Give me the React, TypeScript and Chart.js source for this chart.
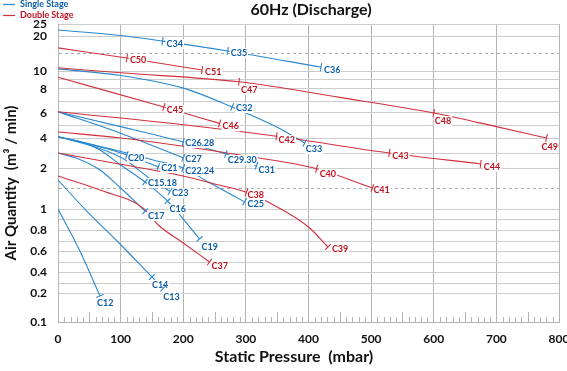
import React, { useEffect, useRef } from 'react';
import { Chart, registerables, LinearScale } from 'chart.js';

// ---------------- axis definitions ----------------
const X_TICKS = [0, 100, 200, 300, 400, 500, 600, 700, 800];
// grid values of the (hand drawn, non uniform) quantity axis
const Y_GRID_VALUES = [0.1, 0.2, 0.3, 0.4, 0.5, 0.6, 0.7, 0.8, 0.9, 1, 1.5, 2, 3, 4, 5, 6, 7, 8, 9, 10, 15, 20, 25];
// relative rank of each grid value along the axis (bottom = 0, top = 298)
const Y_GRID_RANK = [0, 29, 39, 50, 60, 71, 81, 92, 102, 113, 134, 154, 169, 184, 196, 209, 221, 233, 242, 251, 269, 286, 298];
const Y_LABELS = [0.1, 0.2, 0.4, 0.6, 0.8, 1, 2, 4, 6, 8, 10, 20, 25];
const Y_DASHED = [1.5, 15];

// ---------------- single stage curves ----------------
const P_C34 = [0, 100, 167, 271, 420];
const Q_C34 = [22.5, 20.2, 18.5, 15.6, 11.1];
const M_C34 = ['', '', 'C34', 'C35', 'C36'];

const P_C32 = [0, 100, 200, 278, 350, 394];
const Q_C32 = [10.6, 9.5, 8.1, 6.5, 4.9, 3.67];
const M_C32 = ['', '', '', 'C32', '', 'C33'];

const P_C26 = [0, 100, 200, 268, 317];
const Q_C26 = [6.1, 4.95, 3.73, 2.93, 2.15];
const M_C26 = ['', '', 'C26.28', 'C29.30', 'C31'];

const P_C27 = [0, 100, 200];
const Q_C27 = [6.1, 4.4, 2.67];
const M_C27 = ['', '', 'C27'];

const P_C22 = [0, 100, 160, 200, 240, 298];
const Q_C22 = [4.1, 3.1, 2.45, 2.0, 1.65, 1.17];
const M_C22 = ['', '', '', 'C22.24', '', 'C25'];

const P_C20 = [0, 60, 110, 160];
const Q_C20 = [4.1, 3.5, 2.87, 2.07];
const M_C20 = ['', '', 'C20', 'C21'];

const P_C23 = [0, 67, 107, 147, 179];
const Q_C23 = [4.1, 3.3, 2.55, 1.73, 1.42];
const M_C23 = ['', '', '', '', 'C23'];

const P_C15 = [0, 40, 67, 100, 139, 175, 226];
const Q_C15 = [4.1, 3.7, 3.2, 2.2, 1.65, 1.19, 0.72];
const M_C15 = ['', '', '', '', 'C15.18', 'C16', 'C19'];

const P_C17 = [0, 30, 67, 100, 139];
const Q_C17 = [3.0, 2.65, 1.95, 1.5, 0.98];
const M_C17 = ['', '', '', '', 'C17'];

const P_C14 = [0, 46, 99, 150, 168];
const Q_C14 = [1.7, 0.98, 0.67, 0.355, 0.245];
const M_C14 = ['', '', '', 'C14', 'C13'];

const P_C12 = [0, 35, 67];
const Q_C12 = [1.0, 0.6, 0.19];
const M_C12 = ['', '', 'C12'];

// ---------------- double stage curves ----------------
const P_C50 = [0, 110, 230];
const Q_C50 = [16.5, 13.6, 10.3];
const M_C50 = ['', 'C50', 'C51'];

const P_C47 = [0, 100, 289, 450, 600, 700, 780];
const Q_C47 = [10.9, 9.8, 8.8, 7.3, 6.0, 4.95, 4.0];
const M_C47 = ['', '', 'C47', '', 'C48', '', 'C49'];

const P_C45 = [0, 169, 258];
const Q_C45 = [9.3, 6.5, 5.2];
const M_C45 = ['', 'C45', 'C46'];

const P_C42 = [0, 200, 349, 529, 675];
const Q_C42 = [6.1, 5.1, 4.15, 3.0, 2.27];
const M_C42 = ['', '', 'C42', 'C43', 'C44'];

const P_C40 = [0, 100, 200, 300, 413, 502];
const Q_C40 = [4.5, 4.0, 3.45, 2.8, 1.98, 1.5];
const M_C40 = ['', '', '', '', 'C40', 'C41'];

const P_C38 = [0, 100, 200, 250, 301, 350, 400, 431];
const Q_C38 = [3.0, 2.25, 1.8, 1.6, 1.4, 1.05, 0.83, 0.64];
const M_C38 = ['', '', '', '', 'C38', '', '', 'C39'];

const P_C37 = [0, 67, 136, 160, 200, 242];
const Q_C37 = [1.8, 1.45, 1.02, 0.85, 0.68, 0.5];
const M_C37 = ['', '', '', '', '', 'C37'];

// ---------------- styles ----------------
const BLUE_LINE = '#2a88d0';
const RED_LINE = '#d3303c';
const BLUE_TEXT = '#0c5eab';
const RED_TEXT = '#c0121f';
const FONT = 'Lato, "DejaVu Sans", sans-serif';

const LABEL_OFFSET: Record<string, [number, number]> = {
  C34: [4, 3], C35: [3, 2], C36: [3, 3], C50: [3, 2], C51: [3, 2], C47: [2, 8],
  C45: [3, 3], C32: [4, 1], C46: [3, 3], C48: [1, 8], C49: [-5, 9], C42: [2, 4],
  C33: [1, 6], C43: [3, 3], C44: [3, 3], 'C26.28': [2, 1], 'C29.30': [2, 6],
  C31: [2, 4], C27: [2, 1], 'C22.24': [2, 3], C40: [3, 5], C41: [1, 2], C38: [1, 3],
  C25: [3, 2], C39: [4, 2], C20: [1, 3], C21: [3, 1], 'C15.18': [3, 1], C23: [2, 2],
  C16: [2, 8], C17: [3, 5], C19: [2, 8], C37: [2, 4], C12: [-3, 7], C14: [0, 8], C13: [0, 9],
};

type Curve = { p: number[]; q: number[]; m: string[]; line: string; text: string };

const SINGLE: [number[], number[], string[]][] = [
  [P_C34, Q_C34, M_C34], [P_C32, Q_C32, M_C32], [P_C26, Q_C26, M_C26], [P_C27, Q_C27, M_C27],
  [P_C22, Q_C22, M_C22], [P_C20, Q_C20, M_C20], [P_C23, Q_C23, M_C23], [P_C15, Q_C15, M_C15],
  [P_C17, Q_C17, M_C17], [P_C14, Q_C14, M_C14], [P_C12, Q_C12, M_C12],
];
const DOUBLE: [number[], number[], string[]][] = [
  [P_C50, Q_C50, M_C50], [P_C47, Q_C47, M_C47], [P_C45, Q_C45, M_C45], [P_C42, Q_C42, M_C42],
  [P_C40, Q_C40, M_C40], [P_C38, Q_C38, M_C38], [P_C37, Q_C37, M_C37],
];

const CURVES: Curve[] = [
  ...DOUBLE.map(([p, q, m]) => ({ p, q, m, line: RED_LINE, text: RED_TEXT })),
  ...SINGLE.map(([p, q, m]) => ({ p, q, m, line: BLUE_LINE, text: BLUE_TEXT })),
];

// ---------------- custom piecewise axis ----------------
const RANK_MAX = Y_GRID_RANK[Y_GRID_RANK.length - 1];

function valueToDecimal(v: number): number {
  const vs = Y_GRID_VALUES;
  const rs = Y_GRID_RANK;
  let i = 0;
  if (v >= vs[vs.length - 1]) i = vs.length - 2;
  else if (v > vs[0]) {
    while (v > vs[i + 1]) i++;
  }
  const t = (v - vs[i]) / (vs[i + 1] - vs[i]);
  return (rs[i] + t * (rs[i + 1] - rs[i])) / RANK_MAX;
}

function decimalToValue(d: number): number {
  const r = d * RANK_MAX;
  const vs = Y_GRID_VALUES;
  const rs = Y_GRID_RANK;
  let i = 0;
  if (r >= rs[rs.length - 1]) i = rs.length - 2;
  else if (r > rs[0]) {
    while (r > rs[i + 1]) i++;
  }
  const t = (r - rs[i]) / (rs[i + 1] - rs[i]);
  return vs[i] + t * (vs[i + 1] - vs[i]);
}

class PiecewiseScale extends (LinearScale as any) {
  static id = 'piecewise';
  static defaults = {};
  buildTicks() {
    (this as any).start = (this as any).min;
    (this as any).end = (this as any).max;
    return Y_GRID_VALUES.map((value) => ({ value }));
  }
  getPixelForValue(value: number) {
    return (this as any).getPixelForDecimal(valueToDecimal(value));
  }
  getValueForPixel(pixel: number) {
    return decimalToValue((this as any).getDecimalForPixel(pixel));
  }
}

Chart.register(...registerables, PiecewiseScale as any);

// ---------------- plugins ----------------
const minorTicksPlugin = {
  id: 'minorTicks',
  beforeDatasetsDraw(chart: any) {
    const { ctx, chartArea } = chart;
    const xs = chart.scales.x;
    ctx.save();
    ctx.strokeStyle = '#b4b4b4';
    ctx.lineWidth = 1;
    for (let v = 10; v < 800; v += 10) {
      if (v % 100 === 0) continue;
      const len = v % 50 === 0 ? 10 : 5;
      const x = Math.round(xs.getPixelForValue(v)) + 0.5;
      ctx.beginPath();
      ctx.moveTo(x, chartArea.bottom);
      ctx.lineTo(x, chartArea.bottom - len);
      ctx.stroke();
    }
    ctx.restore();
  },
};

const marksPlugin = {
  id: 'curveMarks',
  afterDatasetsDraw(chart: any) {
    const ctx = chart.ctx;
    ctx.save();
    ctx.font = `bold 9px ${FONT}`;
    ctx.textBaseline = 'middle';
    ctx.textAlign = 'left';
    const ticks: { x: number; y: number; nx: number; ny: number; c: string }[] = [];
    CURVES.forEach((c, di) => {
      const pts = chart.getDatasetMeta(di).data;
      c.m.forEach((label, i) => {
        if (!label) return;
        const p = pts[i];
        const a = pts[Math.max(0, i - 1)];
        const b = pts[Math.min(pts.length - 1, i + 1)];
        let tx = b.x - a.x;
        let ty = b.y - a.y;
        const len = Math.hypot(tx, ty) || 1;
        tx /= len;
        ty /= len;
        ticks.push({ x: p.x, y: p.y, nx: -ty, ny: tx, c: c.line });
        const off = LABEL_OFFSET[label] || [3, 3];
        const lx = p.x + off[0];
        const ly = p.y + off[1];
        const w = ctx.measureText(label).width;
        ctx.fillStyle = '#ffffff';
        ctx.fillRect(lx - 1, ly - 5, w + 2, 10);
        ctx.fillStyle = c.text;
        ctx.fillText(label, lx, ly);
      });
    });
    ctx.lineWidth = 1.1;
    ticks.forEach((t) => {
      ctx.strokeStyle = t.c;
      ctx.beginPath();
      ctx.moveTo(t.x - t.nx * 4, t.y - t.ny * 4);
      ctx.lineTo(t.x + t.nx * 4, t.y + t.ny * 4);
      ctx.stroke();
    });
    ctx.restore();
  },
};

const textPlugin = {
  id: 'texts',
  afterDraw(chart: any) {
    const ctx = chart.ctx;
    ctx.save();
    // title
    ctx.fillStyle = '#111111';
    ctx.font = `bold 16px ${FONT}`;
    ctx.textAlign = 'center';
    ctx.textBaseline = 'middle';
    ctx.fillText('60Hz (Discharge)', 311, 10);
    // legend
    ctx.lineWidth = 1.2;
    ctx.strokeStyle = BLUE_LINE;
    ctx.beginPath();
    ctx.moveTo(3, 4.5);
    ctx.lineTo(15, 4.5);
    ctx.stroke();
    ctx.strokeStyle = RED_LINE;
    ctx.beginPath();
    ctx.moveTo(3, 15.5);
    ctx.lineTo(15, 15.5);
    ctx.stroke();
    ctx.font = `bold 9px ${FONT}`;
    ctx.textAlign = 'left';
    ctx.fillStyle = BLUE_TEXT;
    ctx.fillText('Single Stage', 20, 4.5);
    ctx.fillStyle = RED_TEXT;
    ctx.fillText('Double Stage', 20, 15.5);
    // axis titles
    ctx.fillStyle = '#111111';
    ctx.font = `bold 16px ${FONT}`;
    ctx.textAlign = 'center';
    ctx.fillText('Static Pressure  (mbar)', 294, 357);
    ctx.translate(11, 183);
    ctx.rotate(-Math.PI / 2);
    ctx.font = `bold 15px ${FONT}`;
    ctx.fillText('Air Quantity  (m³ / min)', 0, 0);
    ctx.restore();
  },
};

export default function App() {
  const ref = useRef<HTMLCanvasElement | null>(null);

  useEffect(() => {
    document.body.style.margin = '0';
    const canvas = ref.current;
    if (!canvas) return;
    const datasets = CURVES.map((c) => ({
      data: c.p.map((p, i) => ({ x: p, y: c.q[i] })),
      borderColor: c.line,
      borderWidth: 1.1,
      pointRadius: 0,
      pointHoverRadius: 0,
      fill: false,
      cubicInterpolationMode: 'monotone' as const,
    }));

    const chart = new Chart(canvas, {
      type: 'line',
      data: { datasets },
      options: {
        animation: false,
        responsive: false,
        devicePixelRatio: 1,
        layout: { padding: { top: 24, right: 8, bottom: 0, left: 0 } },
        plugins: {
          legend: { display: false },
          tooltip: { enabled: false },
          title: { display: false },
        },
        scales: {
          x: {
            type: 'linear',
            min: 0,
            max: 800,
            afterBuildTicks: (scale: any) => {
              scale.ticks = X_TICKS.map((value) => ({ value }));
            },
            afterFit: (scale: any) => {
              scale.height = 49;
              scale.paddingLeft = 0;
              scale.paddingRight = 0;
            },
            ticks: {
              autoSkip: false,
              maxRotation: 0,
              padding: 10,
              color: '#111111',
              font: { family: FONT, size: 12, weight: 'bold' },
              callback: (v: any) => String(v),
            },
            grid: { color: '#b4b4b4', lineWidth: 1, drawTicks: false },
            border: { display: true, color: '#b4b4b4' },
          },
          y: {
            type: 'piecewise' as any,
            min: 0.1,
            max: 25,
            afterFit: (scale: any) => {
              scale.width = 58;
              scale.paddingTop = 0;
              scale.paddingBottom = 0;
            },
            ticks: {
              autoSkip: false,
              padding: 11,
              color: '#111111',
              font: { family: FONT, size: 12, weight: 'bold' },
              callback: (v: any) => (Y_LABELS.includes(Number(v)) ? String(v) : ''),
            },
            grid: {
              color: (ctx: any) => (ctx.tick && Y_DASHED.includes(ctx.tick.value) ? '#aaaaaa' : '#cccccc'),
              lineWidth: 1,
              drawTicks: false,
            },
            border: {
              display: true,
              color: '#b4b4b4',
              dash: (ctx: any) => (ctx.tick && Y_DASHED.includes(ctx.tick.value) ? [3, 3] : []),
            },
          },
        },
      } as any,
      plugins: [minorTicksPlugin, marksPlugin, textPlugin],
    });
    return () => chart.destroy();
  }, []);

  return (
    <div style={{ width: 567, height: 371, background: '#ffffff' }}>
      <canvas ref={ref} width={567} height={371} style={{ display: 'block' }} />
    </div>
  );
}
